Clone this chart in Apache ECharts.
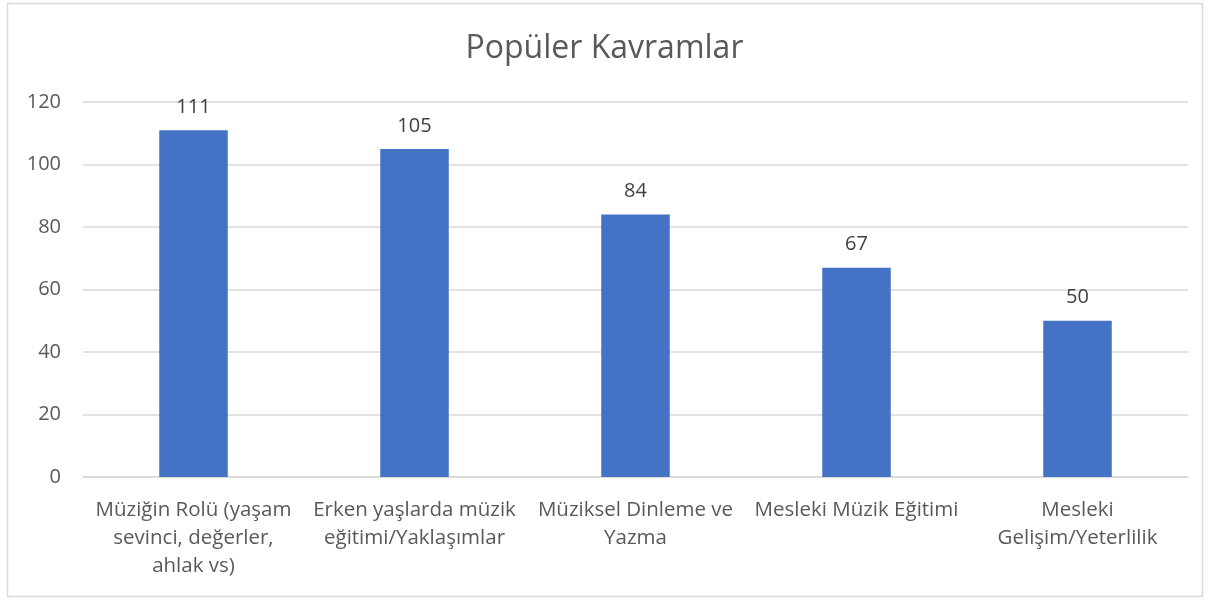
<!DOCTYPE html>
<html>
<head>
<meta charset="utf-8">
<script src="https://cdn.jsdelivr.net/npm/echarts@6/dist/echarts.min.js"></script>
<style>
  html, body { margin: 0; padding: 0; background: #ffffff; }
  #chart { width: 1209px; height: 601px; }
</style>
</head>
<body>
<div id="chart"></div>
<script>
// kategori adları (satır sonları orijinaldeki gibi)
const categories = [
    'Müziğin Rolü (yaşam\nsevinci, değerler,\nahlak vs)',
    'Erken yaşlarda müzik\neğitimi/Yaklaşımlar',
    'Müziksel Dinleme ve\nYazma',
    'Mesleki Müzik Eğitimi',
    'Mesleki\nGelişim/Yeterlilik'
];
const values = [111, 105, 84, 67, 50];
const yTicks = [0, 20, 40, 60, 80, 100, 120];

const fontFamily = '"Open Sans", "Noto Sans", sans-serif';

const myChart = echarts.init(document.getElementById('chart'));
myChart.setOption({
    animation: false,
    title: {
        text: 'Popüler Kavramlar',
        left: 'center',
        top: 28,
        textStyle: {
            color: '#595959',
            fontSize: 32,
            fontWeight: 'normal',
            fontFamily: fontFamily
        }
    },
    graphic: [{
        type: 'rect',
        shape: { x: 7.5, y: 3.5, width: 1195, height: 593 },
        style: { fill: 'none', stroke: '#d9d9d9', lineWidth: 1.5 },
        silent: true
    }],
    grid: {
        left: 83,
        right: 21,
        top: 102,
        bottom: 124
    },
    xAxis: {
        type: 'category',
        data: categories,
        axisLine: { lineStyle: { color: '#d9d9d9', width: 1.5 } },
        axisTick: { show: false },
        axisLabel: {
            color: '#595959',
            fontSize: 20.5,
            fontFamily: fontFamily,
            lineHeight: 28,
            margin: 19,
            interval: 0
        }
    },
    yAxis: {
        type: 'value',
        min: yTicks[0],
        max: yTicks[yTicks.length - 1],
        interval: 20,
        axisLine: { show: false },
        axisTick: { show: false },
        splitLine: { lineStyle: { color: '#d9d9d9', width: 1.5 } },
        axisLabel: {
            color: '#595959',
            fontSize: 20,
            fontFamily: fontFamily,
            margin: 22
        }
    },
    series: [{
        type: 'bar',
        data: values,
        barWidth: '31%',
        itemStyle: { color: '#4472c4' },
        label: {
            show: true,
            position: 'top',
            distance: 13,
            color: '#404040',
            fontSize: 20,
            fontFamily: fontFamily
        }
    }]
});
</script>
</body>
</html>
